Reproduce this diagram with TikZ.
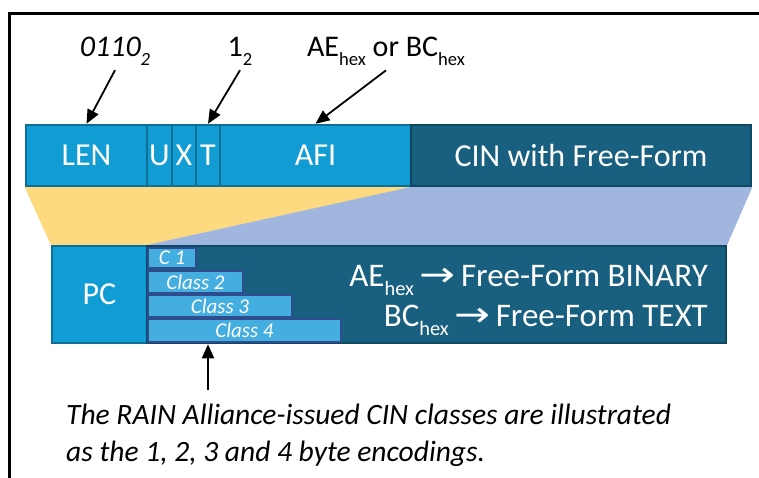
\documentclass[tikz,border=0pt]{standalone}
\usepackage{graphicx}
\usepackage{fontspec}
\setmainfont{Carlito}
\newfontfamily\arrowfont{DejaVu Sans}
\usetikzlibrary{arrows.meta,backgrounds}

\definecolor{segblue}{HTML}{129CD4}
\definecolor{segedge}{HTML}{0D6E96}
\definecolor{cindark}{HTML}{185F80}
\definecolor{cinedge}{HTML}{0E4964}
\definecolor{wedgeyellow}{HTML}{FDDA80}
\definecolor{wedgeblue}{HTML}{A0B6DE}
\definecolor{classfill}{HTML}{44AEE1}
\definecolor{classedge}{HTML}{2F4C8E}

% lowered, reduced text for the "hex" and "2" indices
\newcommand\lowidx[1]{\raisebox{-0.3em}{\scalebox{0.62}{#1}}}
% wide arrow between the code and its meaning
\newcommand\maparrow{\,{\arrowfont\scalebox{1.3}[1.05]{→}}\,}

\begin{document}
\begin{tikzpicture}[x=1pt,y=-1pt,
  bigtext/.style={font=\fontsize{30}{36}\selectfont},
  rowtext/.style={font=\fontsize{32}{38}\selectfont},
  field/.style={rowtext, draw=segedge, fill=segblue, line width=2.5pt,
    inner sep=0pt, text=white},
  darkfield/.style={rowtext, draw=cinedge, fill=cindark, line width=2.5pt,
    inner sep=0pt, text=white},
  classbox/.style={draw=classedge, fill=classfill, line width=2pt,
    inner sep=0pt, text=white, font=\itshape\fontsize{21}{24}\selectfont},
  note/.style={bigtext, text=black, inner sep=4pt},
  caption/.style={anchor=base west, inner sep=0pt, text=black,
    font=\itshape\fontsize{29.5}{38}\selectfont},
  pointer/.style={line width=1.8pt, -{Triangle[length=14pt,width=12pt]}}]

\useasboundingbox (0,0) rectangle (759,478);
\clip (0,0) rectangle (759,478);

% outer frame (only top and left edges fall inside the page)
\draw[line width=3pt] (770,14) -- (9,14) -- (9,490);

% upper field row
\node[field, minimum width=121pt, minimum height=61pt] (len) at (86.5,155.5) {LEN};
\node[field, minimum width=25pt, minimum height=61pt] (u) at (159.5,155.5) {U};
\node[field, minimum width=24pt, minimum height=61pt] (x) at (184,155.5) {X};
\node[field, minimum width=24pt, minimum height=61pt] (t) at (208,155.5) {T};
\node[field, minimum width=191pt, minimum height=61pt] (afi) at (315.5,155.5) {AFI};
\node[darkfield, minimum width=340pt, minimum height=61pt] (cin) at (581,155.5) {CIN with Free-Form};

% lower expanded row
\node[field, minimum width=95pt, minimum height=97pt] (pc) at (99.5,294.5) {PC};
\node[darkfield, minimum width=579pt, minimum height=97pt] (body) at (436.5,294.5) {};

\node[classbox, minimum width=48pt, minimum height=20pt] (c1) at (172,258) {C 1};
\node[classbox, minimum width=95pt, minimum height=22pt] (c2) at (195.5,282) {Class 2};
\node[classbox, minimum width=144pt, minimum height=22pt] (c3) at (220,306) {Class 3};
\node[classbox, minimum width=193pt, minimum height=23pt] (c4) at (244.5,330.5) {Class 4};

\node[text=white, anchor=base east, inner sep=0pt, font=\fontsize{33}{38}\selectfont]
  (aeline) at (708,286) {AE\lowidx{hex}\maparrow Free-Form BINARY};
\node[text=white, anchor=base east, inner sep=0pt, font=\fontsize{33}{38}\selectfont]
  (bcline) at (708,326) {BC\lowidx{hex}\maparrow Free-Form TEXT};

% expansion wedges behind the rows
\begin{scope}[on background layer]
  \fill[wedgeyellow] (len.south west) -- (afi.south east) -- (pc.north east) -- (pc.north west) -- cycle;
  \fill[wedgeblue] (cin.south west) -- (cin.south east) -- (body.north east) -- (pc.north east) -- cycle;
\end{scope}

% annotations above
\node[note, anchor=base] (lenval) at (115,57) {\itshape 0110\lowidx{2}};
\node[note, anchor=base] (tval) at (240,57) {1\lowidx{2}};
\node[note, anchor=base] (afival) at (386,57) {AE\lowidx{hex} or BC\lowidx{hex}};

\draw[pointer] (lenval.south) -- (len.north);
\draw[pointer] (tval.south) -- (t.north);
\draw[pointer] (afival.south) -- (afi.north);

% note below
\coordinate (foot) at (208,390);
\draw[pointer] (foot) -- (foot |- body.south);
\node[caption] (caption1) at (66,424) {The RAIN Alliance-issued CIN classes are illustrated};
\node[caption] (caption2) at (66,461) {as the 1, 2, 3 and 4 byte encodings.};
\end{tikzpicture}
\end{document}
